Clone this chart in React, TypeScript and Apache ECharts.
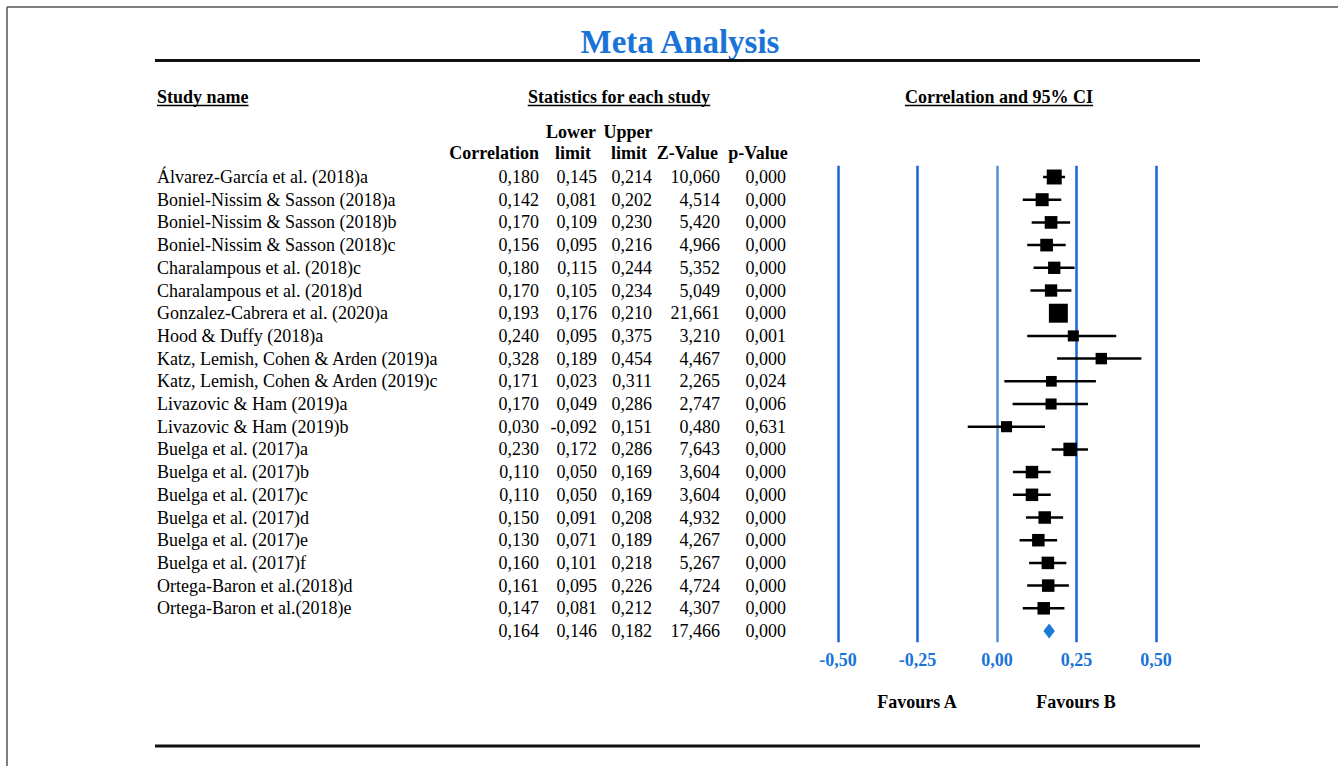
import React, { useEffect, useRef } from "react";
import * as echarts from "echarts";

const FONT = "'Liberation Serif', 'Times New Roman', Times, serif";

const studies = [
  "Álvarez-García et al. (2018)a",
  "Boniel-Nissim & Sasson (2018)a",
  "Boniel-Nissim & Sasson (2018)b",
  "Boniel-Nissim & Sasson (2018)c",
  "Charalampous et al. (2018)c",
  "Charalampous et al. (2018)d",
  "Gonzalez-Cabrera et al. (2020)a",
  "Hood & Duffy (2018)a",
  "Katz, Lemish, Cohen & Arden (2019)a",
  "Katz, Lemish, Cohen & Arden (2019)c",
  "Livazovic & Ham (2019)a",
  "Livazovic & Ham (2019)b",
  "Buelga et al. (2017)a",
  "Buelga et al. (2017)b",
  "Buelga et al. (2017)c",
  "Buelga et al. (2017)d",
  "Buelga et al. (2017)e",
  "Buelga et al. (2017)f",
  "Ortega-Baron et al.(2018)d",
  "Ortega-Baron et al.(2018)e",
];
const correlation = [0.18, 0.142, 0.17, 0.156, 0.18, 0.17, 0.193, 0.24, 0.328, 0.171, 0.17, 0.03, 0.23, 0.11, 0.11, 0.15, 0.13, 0.16, 0.161, 0.147];
const lowerLimit = [0.145, 0.081, 0.109, 0.095, 0.115, 0.105, 0.176, 0.095, 0.189, 0.023, 0.049, -0.092, 0.172, 0.05, 0.05, 0.091, 0.071, 0.101, 0.095, 0.081];
const upperLimit = [0.214, 0.202, 0.23, 0.216, 0.244, 0.234, 0.21, 0.375, 0.454, 0.311, 0.286, 0.151, 0.286, 0.169, 0.169, 0.208, 0.189, 0.218, 0.226, 0.212];
const zValue = [10.06, 4.514, 5.42, 4.966, 5.352, 5.049, 21.661, 3.21, 4.467, 2.265, 2.747, 0.48, 7.643, 3.604, 3.604, 4.932, 4.267, 5.267, 4.724, 4.307];
const pValue = [0, 0, 0, 0, 0, 0, 0, 0.001, 0, 0.024, 0.006, 0.631, 0, 0, 0, 0, 0, 0, 0, 0];
// relative weights (%) judged from box sizes
const weights = [5.3, 4.0, 3.8, 3.8, 3.6, 3.6, 8.5, 2.9, 3.1, 2.7, 2.9, 2.9, 4.3, 3.7, 3.7, 3.7, 3.7, 3.7, 3.7, 3.7];
const summary = { correlation: 0.164, lower: 0.146, upper: 0.182, z: 17.466, p: 0.0 };
const xTicks = { min: -0.5, max: 0.5, step: 0.25 };

const fmt = (v: number, d = 3) => v.toFixed(d).replace(".", ",");

function measure(text: string, font: string) {
  const c = document.createElement("canvas").getContext("2d")!;
  c.font = font;
  return c.measureText(text).width;
}

export default function App() {
  const ref = useRef<HTMLDivElement>(null);
  useEffect(() => {
    const chart = echarts.init(ref.current!, null, { renderer: "svg" });

    const gridLeft = 838;
    const gridRight = 1156;
    const rowTop = 177;
    const rowStep = 22.7;
    const nRows = studies.length + 1;
    const gridTop = rowTop - rowStep / 2;
    const gridBottom = gridTop + rowStep * nRows;

    const blue = "#1767d4";
    const lightBlue = "#4f93d2";
    const textBlue = "#1a74d8";

    const rowFont = 18;
    const headFont = 18;

    const colAxis = (vals: string[], rightEdge: number) => ({
      type: "category",
      data: vals,
      inverse: true,
      position: "left",
      axisLine: { show: false },
      axisTick: { show: false },
      splitLine: { show: false },
      axisLabel: {
        interval: 0,
        margin: gridLeft - rightEdge,
        align: "right",
        fontFamily: FONT,
        fontSize: rowFont,
        color: "#000",
      },
    });

    const allCorr = [...correlation, summary.correlation].map((v) => fmt(v));
    const allLow = [...lowerLimit, summary.lower].map((v) => fmt(v));
    const allUp = [...upperLimit, summary.upper].map((v) => fmt(v));
    const allZ = [...zValue, summary.z].map((v) => fmt(v));
    const allP = [...pValue, summary.p].map((v) => fmt(v));

    const bold = `bold ${headFont}px 'Liberation Serif'`;
    const headers = [
      { text: "Study name", x: 157, align: "left" },
      { text: "Statistics for each study", x: 619, align: "center" },
      { text: "Correlation and 95% CI", x: 999, align: "center" },
    ];
    const headerY = 97;
    const graphics: any[] = [];
    headers.forEach((h) => {
      const w = measure(h.text, bold);
      const x0 = h.align === "left" ? h.x : h.x - w / 2;
      graphics.push({
        type: "text",
        x: h.x,
        y: headerY,
        style: { text: h.text, font: bold, fill: "#000", align: h.align, verticalAlign: "middle" },
      });
      graphics.push({
        type: "line",
        shape: { x1: x0, y1: headerY + 8.5, x2: x0 + w, y2: headerY + 8.5 },
        style: { stroke: "#000", lineWidth: 1.3 },
      });
    });
    const colHeads = [
      { text: "Lower", x: 571, y: 132, align: "center" },
      { text: "Upper", x: 628, y: 132, align: "center" },
      { text: "Correlation", x: 539, y: 153, align: "right" },
      { text: "limit", x: 573, y: 153, align: "center" },
      { text: "limit", x: 629, y: 153, align: "center" },
      { text: "Z-Value", x: 718, y: 153, align: "right" },
      { text: "p-Value", x: 758, y: 153, align: "center" },
    ];
    colHeads.forEach((h) =>
      graphics.push({
        type: "text",
        x: h.x,
        y: h.y,
        style: { text: h.text, font: bold, fill: "#000", align: h.align, verticalAlign: "middle" },
      })
    );
    // title
    graphics.push({
      type: "text",
      x: 680,
      y: 42,
      style: { text: "Meta Analysis", font: `bold 33px 'Liberation Serif'`, fill: textBlue, align: "center", verticalAlign: "middle" },
    });
    // rules
    graphics.push({ type: "line", shape: { x1: 155, y1: 60.5, x2: 1200, y2: 60.5 }, style: { stroke: "#111", lineWidth: 3 } });
    graphics.push({ type: "line", shape: { x1: 155, y1: 746, x2: 1200, y2: 746 }, style: { stroke: "#111", lineWidth: 3 } });
    // frame
    graphics.push({ type: "line", shape: { x1: 7, y1: 7, x2: 1338, y2: 7 }, style: { stroke: "#555", lineWidth: 1.5 } });
    graphics.push({ type: "line", shape: { x1: 7, y1: 7, x2: 7, y2: 766 }, style: { stroke: "#555", lineWidth: 1.5 } });
    // favours
    graphics.push({ type: "text", x: 917, y: 702, style: { text: "Favours A", font: bold, fill: "#000", align: "center", verticalAlign: "middle" } });
    graphics.push({ type: "text", x: 1076, y: 702, style: { text: "Favours B", font: bold, fill: "#000", align: "center", verticalAlign: "middle" } });

    const option: any = {
      animation: false,
      backgroundColor: "#fff",
      grid: { left: gridLeft, right: 1338 - gridRight, top: gridTop, height: gridBottom - gridTop },
      xAxis: {
        type: "value",
        min: xTicks.min,
        max: xTicks.max,
        interval: xTicks.step,
        axisLine: { show: false },
        axisTick: { show: false },
        splitLine: { show: true, lineStyle: { color: [blue, blue, lightBlue, blue, blue], width: 2.5 } },
        axisLabel: {
          formatter: (v: number) => fmt(v, 2),
          color: textBlue,
          fontFamily: FONT,
          fontWeight: "bold",
          fontSize: 18,
          margin: 9,
        },
      },
      yAxis: [
        {
          type: "category",
          data: [...studies, ""],
          inverse: true,
          position: "left",
          axisLine: { show: false },
          axisTick: { show: false },
          splitLine: { show: false },
          axisLabel: {
            interval: 0,
            margin: gridLeft - 157,
            align: "left",
            fontFamily: FONT,
            fontSize: rowFont,
            color: "#000",
          },
        },
        colAxis(allCorr, 539),
        colAxis(allLow, 597),
        colAxis(allUp, 652),
        colAxis(allZ, 720),
        colAxis(allP, 786),
      ],
      graphic: graphics,
      series: [
        {
          type: "custom",
          yAxisIndex: 0,
          encode: { x: [1, 2, 3], y: 0 },
          data: studies.map((_, i) => [i, correlation[i], lowerLimit[i], upperLimit[i], weights[i]]),
          renderItem: (params: any, api: any) => {
            const y = api.value(0);
            const pE = api.coord([api.value(1), y]);
            const pL = api.coord([api.value(2), y]);
            const pH = api.coord([api.value(3), y]);
            const s = Math.sqrt(api.value(4)) * 6.5;
            return {
              type: "group",
              children: [
                { type: "line", shape: { x1: pL[0], y1: pL[1], x2: pH[0], y2: pH[1] }, style: { stroke: "#000", lineWidth: 2.5 } },
                { type: "rect", shape: { x: pE[0] - s / 2, y: pE[1] - s / 2, width: s, height: s }, style: { fill: "#000" } },
              ],
            };
          },
        },
        {
          type: "custom",
          yAxisIndex: 0,
          encode: { x: [1, 2, 3], y: 0 },
          data: [[studies.length, summary.correlation, summary.lower, summary.upper]],
          renderItem: (params: any, api: any) => {
            const y = api.value(0);
            const pE = api.coord([api.value(1), y]);
            const pL = api.coord([api.value(2), y]);
            const pH = api.coord([api.value(3), y]);
            const h = 7.5;
            return {
              type: "polygon",
              shape: { points: [[pL[0], pE[1]], [pE[0], pE[1] - h], [pH[0], pE[1]], [pE[0], pE[1] + h]] },
              style: { fill: "#1a7ad9" },
            };
          },
        },
      ],
    };
    chart.setOption(option);
    return () => chart.dispose();
  }, []);
  return (
    <div
      ref={ref}
      style={{ position: "fixed", left: 0, top: 0, width: 1338, height: 766, background: "#fff" }}
    />
  );
}
